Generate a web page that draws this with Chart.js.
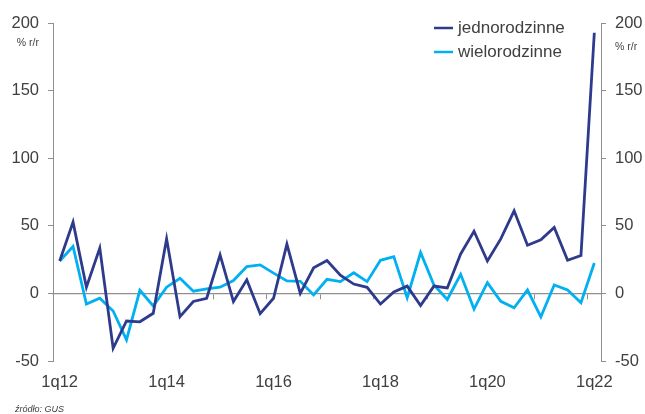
<!DOCTYPE html>
<html>
<head>
<meta charset="utf-8">
<script src="https://cdn.jsdelivr.net/npm/chart.js@4/dist/chart.umd.min.js"></script>
<style>
  html, body { margin: 0; padding: 0; background: #ffffff; }
  canvas { display: block; }
</style>
</head>
<body>
<canvas id="chart" width="645" height="414"></canvas>
<script>
// Quarterly categories, 1q12 .. 1q22
const quarters = [
  '1q12','2q12','3q12','4q12','1q13','2q13','3q13','4q13',
  '1q14','2q14','3q14','4q14','1q15','2q15','3q15','4q15',
  '1q16','2q16','3q16','4q16','1q17','2q17','3q17','4q17',
  '1q18','2q18','3q18','4q18','1q19','2q19','3q19','4q19',
  '1q20','2q20','3q20','4q20','1q21','2q21','3q21','4q21',
  '1q22'
];

// Year-on-year change, %
const jednorodzinne = [
  24, 52.7, 4.6, 33.5, -40.6, -20.4, -21, -14.7,
  40.4, -17.2, -6, -3.6, 28.5, -6, 10, -15,
  -3.6, 36.4, 0, 18.9, 24.3, 13.4, 6.9, 4.5,
  -7.9, 1.0, 5.4, -8.9, 5.4, 4.0, 29.2, 46,
  24, 40.3, 61.1, 35.6, 39.6, 48.8, 24.5, 28,
  192.8
];
const wielorodzinne = [
  24, 34.7, -7.8, -3.6, -13, -34.4, 2.3, -9.3,
  4.6, 11.2, 1.6, 3.3, 4.6, 9.5, 19.9, 21.1,
  15, 9.2, 8.9, -1.1, 10.4, 8.7, 15.3, 8.7,
  24.5, 27.2, -3.2, 30.2, 6.2, -4.5, 14.1, -11.6,
  7.9, -5.9, -10.6, 2.5, -17.3, 6.2, 2.5, -6.9,
  22.5
];

const seriesNames = ['jednorodzinne', 'wielorodzinne'];
const yRange = { min: -50, max: 200, step: 50 };
const unitLabel = '% r/r';
const sourceNote = 'źródło: GUS';

const FONT = "'Liberation Sans', Arial, Helvetica, sans-serif";
const TEXT = '#404040';
const AXIS = '#8f8f8f';
const DARK = '#2e3a8c';
const LIGHT = '#00b0f0';

// Legend, unit captions and source note
const annotations = {
  id: 'annotations',
  afterDraw(chart) {
    const { ctx, chartArea } = chart;
    ctx.save();
    ctx.textAlign = 'left';
    ctx.textBaseline = 'middle';
    chart.data.datasets.forEach((ds, i) => {
      const y = 28 + i * 24;
      ctx.strokeStyle = ds.borderColor;
      ctx.lineWidth = 2.5;
      ctx.beginPath();
      ctx.moveTo(434, y);
      ctx.lineTo(453, y);
      ctx.stroke();
      ctx.fillStyle = TEXT;
      ctx.font = `17px ${FONT}`;
      ctx.fillText(ds.label, 458, y);
    });

    ctx.font = `10.5px ${FONT}`;
    ctx.fillStyle = TEXT;
    ctx.textAlign = 'right';
    ctx.fillText(unitLabel, chartArea.left - 14, 43);
    ctx.textAlign = 'left';
    ctx.fillText(unitLabel, chartArea.right + 14, 47);

    ctx.font = `italic 9px ${FONT}`;
    ctx.fillText(sourceNote, 15, 409);
    ctx.restore();
  }
};

const tickFont = { family: FONT, size: 16.5 };

new Chart(document.getElementById('chart'), {
  type: 'line',
  data: {
    labels: quarters,
    datasets: [
      {
        label: seriesNames[0],
        data: jednorodzinne,
        borderColor: DARK,
        borderWidth: 2.8,
        pointRadius: 0,
        tension: 0,
        fill: false,
        xAxisID: 'x',
        yAxisID: 'y'
      },
      {
        label: seriesNames[1],
        data: wielorodzinne,
        borderColor: LIGHT,
        borderWidth: 2.8,
        pointRadius: 0,
        tension: 0,
        fill: false,
        xAxisID: 'x',
        yAxisID: 'y'
      }
    ]
  },
  options: {
    responsive: false,
    animation: false,
    devicePixelRatio: 1,
    layout: { padding: { top: 23, left: 0, right: 0, bottom: 0 } },
    plugins: {
      legend: { display: false },
      tooltip: { enabled: false }
    },
    scales: {
      x: {
        type: 'category',
        position: 'bottom',
        offset: true,
        grid: { display: false, drawTicks: false },
        border: { display: false },
        ticks: {
          autoSkip: false,
          maxRotation: 0,
          minRotation: 0,
          padding: 12,
          color: TEXT,
          font: tickFont,
          callback(value, index) {
            return index % 8 === 0 ? quarters[index] : '';
          }
        },
        afterFit(scale) { scale.height = 53; }
      },
      xZero: {
        axis: 'x',
        type: 'category',
        position: { y: 0 },
        offset: true,
        ticks: { display: false },
        grid: {
          drawOnChartArea: false,
          offset: true,
          drawTicks: true,
          tickLength: 5,
          tickColor: (c) => (c.index !== undefined && c.index % 4 === 0) ? AXIS : 'rgba(0,0,0,0)'
        },
        border: { display: true, color: AXIS, width: 1.3 }
      },
      y: {
        position: 'left',
        min: yRange.min,
        max: yRange.max,
        ticks: { stepSize: yRange.step, color: TEXT, font: tickFont, padding: 9 },
        grid: { drawOnChartArea: false, drawTicks: true, tickLength: 5, tickColor: AXIS },
        border: { display: true, color: AXIS, width: 1 },
        afterFit(scale) { scale.width = 53; }
      },
      y2: {
        position: 'right',
        min: yRange.min,
        max: yRange.max,
        ticks: { stepSize: yRange.step, color: TEXT, font: tickFont, padding: 9 },
        grid: { drawOnChartArea: false, drawTicks: true, tickLength: 5, tickColor: AXIS },
        border: { display: true, color: AXIS, width: 1 },
        afterFit(scale) { scale.width = 44; }
      }
    }
  },
  plugins: [annotations]
});
</script>
</body>
</html>
